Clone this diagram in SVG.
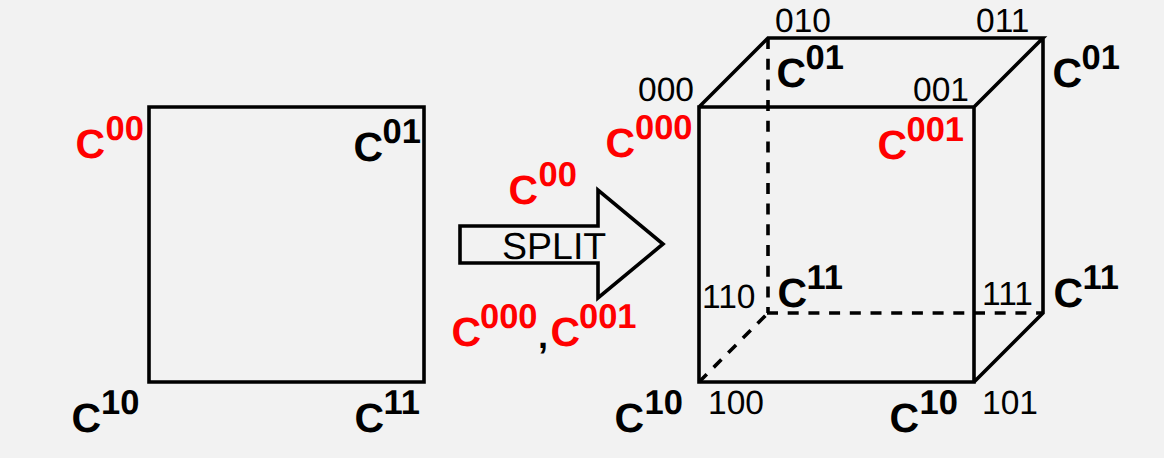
<svg xmlns="http://www.w3.org/2000/svg" width="1164" height="458" viewBox="0 0 1164 458">
<style>
.l{fill:none;stroke:#000;stroke-width:3.6}
.d{fill:none;stroke:#000;stroke-width:3.6;stroke-dasharray:11 9.7}
text{font-family:"Liberation Sans",Arial,sans-serif;text-rendering:geometricPrecision}
.n{font-size:33.5px;fill:#000}
.c{font-size:41px;font-weight:700}
.s{font-size:34.5px;font-weight:700}
.k{fill:#000}.r{fill:#f00}
</style>
<rect width="1164" height="458" fill="#f2f2f2"/>
<g id="connectors">
<path class="l" d="M149 107H424V382H149Z"/>
<path class="l" d="M460 226H598V190L663 244 598 298V263H460Z"/>
<path class="l" d="M699 382V107H974V382ZM699 107L768 38H1043L974 107M1043 38V313L974 382"/>
<path class="d" d="M768 38V313"/>
<path class="d" d="M767 313H1043"/>
<path class="d" d="M699 382L768 313"/>
</g>
<g id="square-labels">
<text class="c r" x="75.500" y="157.500">C</text><text class="s r" x="105.500" y="140">00</text>
<text class="c k" x="353.500" y="160.500">C</text><text class="s k" x="382.500" y="143">01</text>
<text class="c k" x="71.500" y="431.500">C</text><text class="s k" x="101" y="414">10</text>
<text class="c k" x="354.500" y="431.500">C</text><text class="s k" x="383.500" y="414">11</text>
</g>
<g id="split-arrow">
<text class="c r" x="508.500" y="203.500">C</text><text class="s r" x="538.500" y="186">00</text>
<text x="502" y="259" font-size="37.500" fill="#000">SPLIT</text>
<text class="c r" x="451.500" y="345.500">C</text><text class="s r" x="480" y="328">000</text>
<text class="k" x="538" y="348" font-size="36" font-weight="700">,</text>
<text class="c r" x="550.500" y="345.500">C</text><text class="s r" x="579" y="328">001</text>
</g>
<g id="cube-labels">
<text class="n" x="775" y="32">010</text>
<text class="n" x="976" y="32">011</text>
<text class="n" x="638" y="101">000</text>
<text class="n" x="913" y="101">001</text>
<text class="n" x="702" y="308">110</text>
<text class="n" x="982" y="305">111</text>
<text class="n" x="708" y="414">100</text>
<text class="n" x="982" y="414">101</text>
<text class="c k" x="776.500" y="86.500">C</text><text class="s k" x="805.500" y="69">01</text>
<text class="c k" x="1052.500" y="86.500">C</text><text class="s k" x="1081.500" y="69">01</text>
<text class="c r" x="605.500" y="156.500">C</text><text class="s r" x="635" y="139">000</text>
<text class="c r" x="877.500" y="158.500">C</text><text class="s r" x="906.500" y="141">001</text>
<text class="c k" x="777.500" y="306.500">C</text><text class="s k" x="806.500" y="289">11</text>
<text class="c k" x="1053.500" y="306.500">C</text><text class="s k" x="1082.500" y="289">11</text>
<text class="c k" x="614.500" y="431.500">C</text><text class="s k" x="644.500" y="414">10</text>
<text class="c k" x="889.500" y="431.500">C</text><text class="s k" x="919.500" y="414">10</text>
</g>
</svg>
